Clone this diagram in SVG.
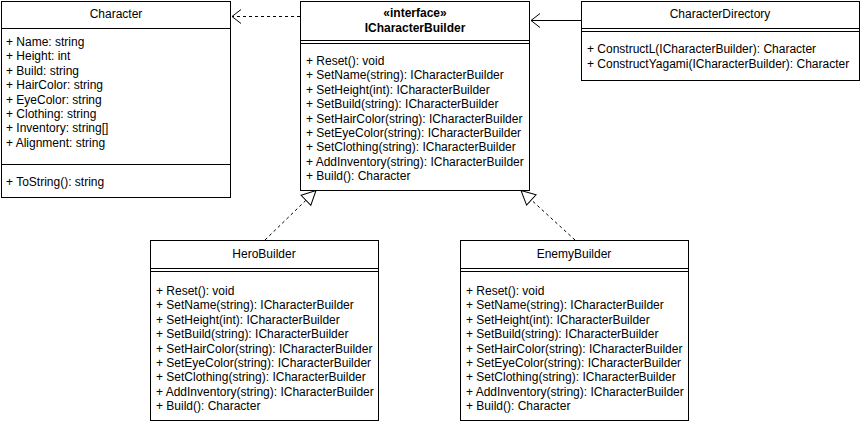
<svg xmlns="http://www.w3.org/2000/svg" width="862" height="424" viewBox="0 0 862 424">
<style>
.box{fill:#fff;stroke:#000;stroke-width:1}
.sep{stroke:#000;stroke-width:1;fill:none}
text{font-family:"Liberation Sans",Arial,sans-serif;font-size:12px;fill:#000}
.t{text-anchor:middle}
.b{font-weight:bold}
.edge{fill:none;stroke:#000;stroke-width:1}
.dash{stroke-dasharray:3 3}
</style>
<defs>
<marker id="open" markerUnits="userSpaceOnUse" markerWidth="12" markerHeight="16" viewBox="0 0 12 16" refX="10" refY="8" orient="auto">
<path d="M1,1 L10,8 L1,15" fill="none" stroke="#000" stroke-width="1"/>
</marker>
<marker id="tri" markerUnits="userSpaceOnUse" markerWidth="17" markerHeight="17" viewBox="0 0 17 17" refX="15.5" refY="8.5" orient="auto">
<path d="M1.5,1.5 L15.5,8.5 L1.5,15.5 Z" fill="#fff" stroke="#000" stroke-width="1"/>
</marker>
</defs>

<g id="connectors">
<path class="edge dash" d="M300,16.5 L232,16.5" marker-end="url(#open)"/>
<path class="edge" d="M581,20.5 L531,20.5" marker-end="url(#open)"/>
<path class="edge dash" d="M265,240 L316,190.5" marker-end="url(#tri)"/>
<path class="edge dash" d="M575,240 L521,190.5" marker-end="url(#tri)"/>
</g>

<g id="Character">
<rect class="box" x="1.5" y="1.5" width="229" height="196"/>
<line class="sep" x1="1.5" y1="28.5" x2="230.5" y2="28.5"/>
<line class="sep" x1="1.5" y1="164.5" x2="230.5" y2="164.5"/>
<text class="t" x="116" y="18">Character</text>
<text x="6" y="46">+ Name: string</text>
<text x="6" y="60.4">+ Height: int</text>
<text x="6" y="74.8">+ Build: string</text>
<text x="6" y="89.2">+ HairColor: string</text>
<text x="6" y="103.6">+ EyeColor: string</text>
<text x="6" y="118">+ Clothing: string</text>
<text x="6" y="132.4">+ Inventory: string[]</text>
<text x="6" y="146.8">+ Alignment: string</text>
<text x="6" y="186">+ ToString(): string</text>
</g>

<g id="ICharacterBuilder">
<rect class="box" x="300.5" y="1.5" width="229" height="189"/>
<line class="sep" x1="300.5" y1="40.5" x2="529.5" y2="40.5"/>
<line class="sep" x1="300.5" y1="43.5" x2="529.5" y2="43.5"/>
<text class="t b" x="415" y="17">«interface»</text>
<text class="t b" x="415" y="32">ICharacterBuilder</text>
<text x="306" y="65">+ Reset(): void</text>
<text x="306" y="79.4">+ SetName(string): ICharacterBuilder</text>
<text x="306" y="93.8">+ SetHeight(int): ICharacterBuilder</text>
<text x="306" y="108.2">+ SetBuild(string): ICharacterBuilder</text>
<text x="306" y="122.6">+ SetHairColor(string): ICharacterBuilder</text>
<text x="306" y="137">+ SetEyeColor(string): ICharacterBuilder</text>
<text x="306" y="151.4">+ SetClothing(string): ICharacterBuilder</text>
<text x="306" y="165.8">+ AddInventory(string): ICharacterBuilder</text>
<text x="306" y="180.2">+ Build(): Character</text>
</g>

<g id="CharacterDirectory">
<rect class="box" x="581.5" y="1.5" width="278" height="79"/>
<line class="sep" x1="581.5" y1="28.5" x2="859.5" y2="28.5"/>
<line class="sep" x1="581.5" y1="31.5" x2="859.5" y2="31.5"/>
<text class="t" x="720" y="18">CharacterDirectory</text>
<text x="587" y="53">+ ConstructL(ICharacterBuilder): Character</text>
<text x="587" y="68">+ ConstructYagami(ICharacterBuilder): Character</text>
</g>

<g id="HeroBuilder">
<rect class="box" x="150.5" y="240.5" width="228" height="180"/>
<line class="sep" x1="150.5" y1="268.5" x2="378.5" y2="268.5"/>
<line class="sep" x1="150.5" y1="271.5" x2="378.5" y2="271.5"/>
<text class="t" x="264" y="258">HeroBuilder</text>
<text x="156" y="295">+ Reset(): void</text>
<text x="156" y="309.4">+ SetName(string): ICharacterBuilder</text>
<text x="156" y="323.8">+ SetHeight(int): ICharacterBuilder</text>
<text x="156" y="338.2">+ SetBuild(string): ICharacterBuilder</text>
<text x="156" y="352.6">+ SetHairColor(string): ICharacterBuilder</text>
<text x="156" y="367">+ SetEyeColor(string): ICharacterBuilder</text>
<text x="156" y="381.4">+ SetClothing(string): ICharacterBuilder</text>
<text x="156" y="395.8">+ AddInventory(string): ICharacterBuilder</text>
<text x="156" y="410.2">+ Build(): Character</text>
</g>

<g id="EnemyBuilder">
<rect class="box" x="460.5" y="240.5" width="228" height="180"/>
<line class="sep" x1="460.5" y1="268.5" x2="688.5" y2="268.5"/>
<line class="sep" x1="460.5" y1="271.5" x2="688.5" y2="271.5"/>
<text class="t" x="574" y="258">EnemyBuilder</text>
<text x="466" y="295">+ Reset(): void</text>
<text x="466" y="309.4">+ SetName(string): ICharacterBuilder</text>
<text x="466" y="323.8">+ SetHeight(int): ICharacterBuilder</text>
<text x="466" y="338.2">+ SetBuild(string): ICharacterBuilder</text>
<text x="466" y="352.6">+ SetHairColor(string): ICharacterBuilder</text>
<text x="466" y="367">+ SetEyeColor(string): ICharacterBuilder</text>
<text x="466" y="381.4">+ SetClothing(string): ICharacterBuilder</text>
<text x="466" y="395.8">+ AddInventory(string): ICharacterBuilder</text>
<text x="466" y="410.2">+ Build(): Character</text>
</g>
</svg>
